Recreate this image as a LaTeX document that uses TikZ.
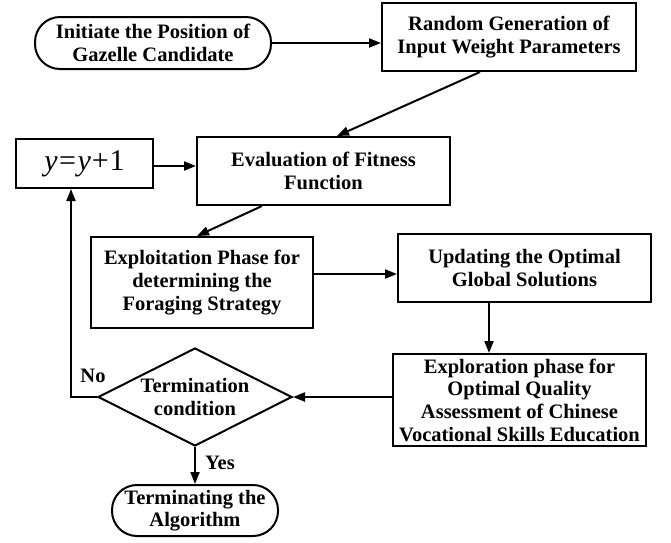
\documentclass[tikz,border=0pt]{standalone}
\usepackage{fontspec}
\setmainfont{Liberation Serif}
\usetikzlibrary{arrows.meta,shapes.geometric,calc}
\begin{document}
\begin{tikzpicture}[x=1pt,y=-1pt,
  every node/.style={font=\fontsize{20.5}{22.7}\selectfont\bfseries, align=center, inner sep=0pt, line width=2pt},
  procbox/.style={draw, rectangle},
  termbox/.style={draw, rectangle, rounded corners=25pt},
  decbox/.style={draw, diamond, aspect=2},
  conn/.style={line width=2pt, -{Triangle[length=12pt,width=9pt]}},
  plainline/.style={line width=2pt}
]
\fill[white] (0,0) rectangle (671,542);
\useasboundingbox (0,0) rectangle (671,542);

\node[termbox, minimum width=236pt, minimum height=52pt] (start) at (153,43) {Initiate the Position of\\Gazelle Candidate};
\node[procbox, minimum width=254pt, minimum height=68pt] (random) at (509,37) {Random Generation of\\Input Weight Parameters};
\node[procbox, minimum width=137pt, minimum height=49pt, font=\fontsize{30}{33}\selectfont] (yy) at (84.5,163.5) {\textit{y}\kern1.5pt=\kern1.5pt\textit{y}\kern1pt+\kern1pt1};
\node[procbox, minimum width=253pt, minimum height=68pt] (eval) at (323.5,171) {Evaluation of Fitness\\Function};
\node[procbox, minimum width=222pt, minimum height=91pt] (exploit) at (202,282.5) {Exploitation Phase for\\determining the\\Foraging Strategy};
\node[procbox, minimum width=253pt, minimum height=68pt] (update) at (524.5,268) {Updating the Optimal\\Global Solutions};
\node[procbox, minimum width=253pt, minimum height=92pt] (explore) at (519.5,400) {Exploration phase for\\Optimal Quality\\Assessment of Chinese\\Vocational Skills Education};
\node[decbox, minimum width=194pt, minimum height=98pt] (dia) at (195,397) {Termination\\condition};
\node[termbox, minimum width=166pt, minimum height=51pt] (end) at (195,510.5) {Terminating the\\Algorithm};

\node (nolab) at (93,376) {No};
\node (yeslab) at (220,463) {Yes};

\draw[conn] (start.east) -- (start.east -| random.west);
\draw[conn] ([xshift=-29pt]random.south) -- ([xshift=13.5pt]eval.north);
\draw[conn] (yy.east |- 0,166) -- (eval.west |- 0,166);
\draw[conn] ([xshift=-61.5pt]eval.south) -- ([xshift=-5pt]exploit.north);
\draw[conn] ([yshift=8.5pt]exploit.east) -- ([yshift=8.5pt]exploit.east -| update.west);
\draw[conn] ([xshift=-35.5pt]update.south) -- ([xshift=-35.5pt]update.south |- explore.north);
\draw[conn] (explore.west |- dia.east) -- (dia.east);
\draw[conn] (dia.west) -| ([xshift=-13.5pt]yy.south);
\draw[conn] (dia.south) -- (end.north);
\end{tikzpicture}
\end{document}
